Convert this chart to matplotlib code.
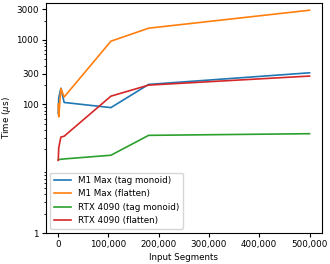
import matplotlib
matplotlib.use("Agg")
import matplotlib.pyplot as plt
from matplotlib.ticker import FixedLocator, FuncFormatter, LogLocator, NullFormatter

x = [300, 1200, 5500, 12000, 105000, 180000, 500000]
m1_tag = [72, 125, 178, 107, 89, 204, 309]
m1_flat = [101, 64, 175, 130, 957, 1524, 2897]
rtx_tag = [13.7, 13.9, 14.0, 14.2, 16.2, 33, 35]
rtx_flat = [13.5, 21, 31, 32, 134, 199, 275]
labels = ["M1 Max (tag monoid)", "M1 Max (flatten)", "RTX 4090 (tag monoid)", "RTX 4090 (flatten)"]
yticks = [1, 100, 300, 1000, 3000]

plt.rcParams['font.size'] = 6.3
plt.rcParams['xtick.major.size'] = 2.6
plt.rcParams['ytick.major.size'] = 2.6
plt.rcParams['ytick.minor.size'] = 1.5
plt.rcParams['xtick.major.pad'] = 2.4
plt.rcParams['ytick.major.pad'] = 2.4
plt.rcParams['axes.labelpad'] = 2.6
fig, ax = plt.subplots(figsize=(3.3, 2.64), dpi=100)
fig.subplots_adjust(left=0.1385, right=0.976, top=0.99, bottom=0.117)

for ys, lab in zip([m1_tag, m1_flat, rtx_tag, rtx_flat], labels):
    ax.plot(x, ys, label=lab, lw=1.2)

ax.set_yscale('log')
ax.set_ylim(1, 3800)
ax.yaxis.set_major_locator(FixedLocator(yticks))
ax.yaxis.set_major_formatter(FuncFormatter(lambda v, p: f"{v:g}"))
ax.yaxis.set_minor_locator(LogLocator(base=10, subs='auto'))
ax.yaxis.set_minor_formatter(NullFormatter())
ax.xaxis.set_major_formatter(FuncFormatter(lambda v, p: f"{v:,.0f}"))
ax.set_xlabel("Input Segments")
ax.set_ylabel(r"Time ($\mu$s)")
ax.legend(loc='lower left')
fig.savefig("out.png", dpi=100)
